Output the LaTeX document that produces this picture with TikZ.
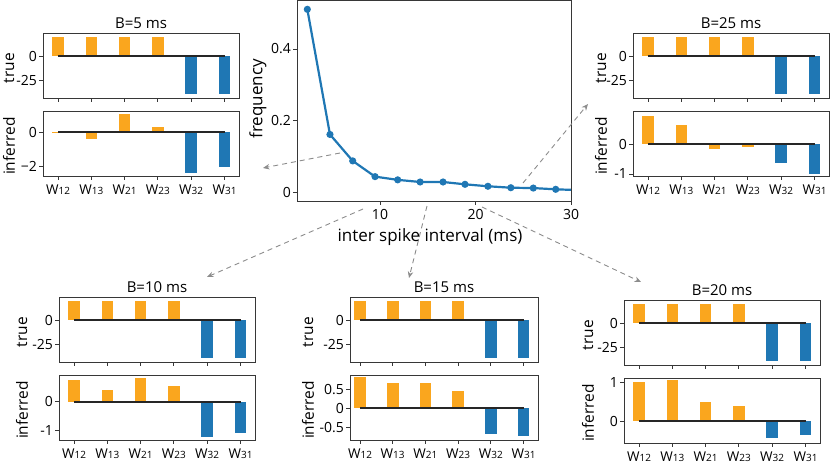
\documentclass[tikz,border=0pt]{standalone}
\usepackage{fontspec}
\setmainfont{Open Sans}
\usetikzlibrary{arrows.meta}
\definecolor{worange}{RGB}{250,166,30}
\definecolor{wblue}{RGB}{31,119,180}
\definecolor{framegray}{RGB}{55,55,55}
\definecolor{arrowgray}{RGB}{140,140,140}
\tikzstyle{axbox} = [draw=framegray, line width=1pt]
\tikzstyle{axtick} = [framegray, line width=0.9pt]
\tikzstyle{zeroline} = [black!85, line width=2.2pt]
\tikzstyle{isiline} = [wblue, line width=2.2pt, line join=round]
\tikzstyle{isiarrow} = [arrowgray, line width=0.9pt, dash pattern=on 5pt off 4pt, -{Stealth[length=6.5pt,width=5.5pt]}]
\tikzstyle{titlelab} = [font=\fontsize{15}{15}\selectfont, inner sep=0pt, anchor=base]
\tikzstyle{ticklab} = [font=\fontsize{14}{14}\selectfont, inner sep=0pt, anchor=east]
\tikzstyle{sidelab} = [font=\fontsize{15.5}{15.5}\selectfont, inner sep=0pt, rotate=90]
\tikzstyle{wlab} = [font=\fontsize{13.5}{13.5}\selectfont, inner sep=0pt, anchor=base]
\tikzstyle{axlab} = [font=\fontsize{17}{17}\selectfont, inner sep=0pt]
\newcommand{\wsize}{\fontsize{10}{10}\selectfont}

% panel geometry (pixels)
\newcommand{\panelw}{196}
\newcommand{\firsttick}{15}
\newcommand{\tickgap}{33.3}

% #1 name, #2 x, #3 y, #4 title, #5 side label x, #6 inferred zero, #7 inferred scale,
% #8 inferred ticks, #9 inferred weights
\newcommand{\wpanel}[9]{%
\begin{scope}[shift={(#2,#3)}]
\node[titlelab] (#1-title) at (\panelw/2,-5) {#4};
\node[sidelab] (#1-true) at (#5,35) {true};
\node[sidelab] (#1-inf) at (#5,113) {inferred};
\foreach \w [count=\i] in {12,13,21,23,32,31}
{
\pgfmathsetmacro{\bx}{\firsttick+(\i-1)*\tickgap}
\ifnum\i<5
\fill[worange] (\bx-5.8,23) rectangle (\bx+5.8,3.8);
\else
\fill[wblue] (\bx-5.8,23) rectangle (\bx+5.8,61.4);
\fi
\draw[axtick] (\bx,65) -- (\bx,69);
\draw[axtick] (\bx,143) -- (\bx,147);
\node[wlab] (#1-w\w) at (\bx,161) {W{\wsize\w}};
}
\foreach \v [count=\i] in {#9}
{
\pgfmathsetmacro{\bx}{\firsttick+(\i-1)*\tickgap}
\ifnum\i<5 \def\bc{worange}\else\def\bc{wblue}\fi
\fill[\bc] (\bx-5.8,78+#6) rectangle (\bx+5.8,{78+#6-(\v)*#7});
}
\draw[zeroline] (\firsttick,23) -- (\firsttick+5*\tickgap,23);
\draw[zeroline] (\firsttick,78+#6) -- (\firsttick+5*\tickgap,78+#6);
\foreach \y/\lab [count=\k] in {0/0,-25/-25}
{
\draw[axtick] (0,{23-0.96*(\y)}) -- (-4,{23-0.96*(\y)});
\node[ticklab] (#1-ty\k) at (-6,{23-0.96*(\y)}) {\lab};
}
\foreach \y/\lab [count=\k] in {#8}
{
\draw[axtick] (0,{78+#6-(\y)*#7}) -- (-4,{78+#6-(\y)*#7});
\node[ticklab] (#1-iy\k) at (-6,{78+#6-(\y)*#7}) {\lab};
}
\draw[axbox] (0,0) rectangle (\panelw,65);
\draw[axbox] (0,78) rectangle (\panelw,143);
\end{scope}}

\begin{document}
\begin{tikzpicture}[x=1pt,y=-1pt]
\useasboundingbox (0,0) rectangle (830,463);

% ISI distribution
\begin{scope}[shift={(284.5,192)}, x=9.55pt, y=357.5pt]
\foreach \t/\f [count=\k] in {2.39/0.511,4.76/0.161,7.14/0.087,9.48/0.043,11.85/0.034,14.2/0.028,16.6/0.028,18.9/0.0215,21.3/0.016,23.7/0.012,26.05/0.011,28.4/0.0075}
{
\coordinate (p\k) at (\t,\f);
}
\coordinate (pend) at (30,0.006);
\end{scope}
\draw[isiline] (p1) \foreach \k in {2,...,12} {-- (p\k)} -- (pend);
\foreach \k in {1,...,12}
{
\fill[wblue] (p\k) circle (3.6pt);
}
\draw[axbox] (297,0.6) rectangle (571,201);
\foreach \x/\lab [count=\k] in {380/10,475.5/20,571/30}
{
\draw[axtick] (\x,201) -- (\x,205);
\node[ticklab, anchor=north] (isi-x\k) at (\x,209) {\lab};
}
\foreach \y/\lab [count=\k] in {192/0,120.5/0.2,49/0.4}
{
\draw[axtick] (297,\y) -- (293,\y);
\node[ticklab] (isi-y\k) at (291,\y) {\lab};
}
\node[axlab, rotate=90] (isi-ylab) at (258,99) {frequency};
\node[axlab, anchor=base] (isi-xlab) at (430,241) {inter spike interval (ms)};

% weight panels
\wpanel{b5}{43}{33}{B=5 ms}{-34}{21}{17}{0/0,-2/−2}{-0.05,-0.4,1.06,0.3,-2.4,-2.05}
\wpanel{b25}{633}{33}{B=25 ms}{-32}{33}{30}{0/0,-1/-1}{0.93,0.64,-0.17,-0.09,-0.64,-1.0}
\wpanel{b10}{59}{297}{B=10 ms}{-37}{26.7}{28.3}{0/0,-1/-1}{0.77,0.41,0.85,0.55,-1.26,-1.1}
\wpanel{b20}{624}{300}{B=20 ms}{-36}{43}{38.7}{1/1,0/0}{1.0,1.06,0.5,0.39,-0.45,-0.36}
\begin{scope}
\renewcommand{\panelw}{188}\renewcommand{\firsttick}{10}\renewcommand{\tickgap}{32.7}
\wpanel{b15}{350}{297}{B=15 ms}{-42}{33.3}{38}{0.5/0.5,0/0,-0.5/-0.5}{0.82,0.67,0.66,0.46,-0.68,-0.73}
\end{scope}

% bin size arrows
\coordinate (from5) at (340,153);
\coordinate (to5) at (263,168);
\coordinate (from25) at (523,183);
\coordinate (to25) at (588,104);
\coordinate (from10) at (363,209);
\coordinate (to10) at (207,277);
\coordinate (from15) at (427,206);
\coordinate (to15) at (409,278);
\coordinate (from20) at (482,207);
\coordinate (to20) at (641,282);
\foreach \b in {5,25,10,15,20}
{
\draw[isiarrow] (from\b) -- (to\b);
}
\end{tikzpicture}
\end{document}
